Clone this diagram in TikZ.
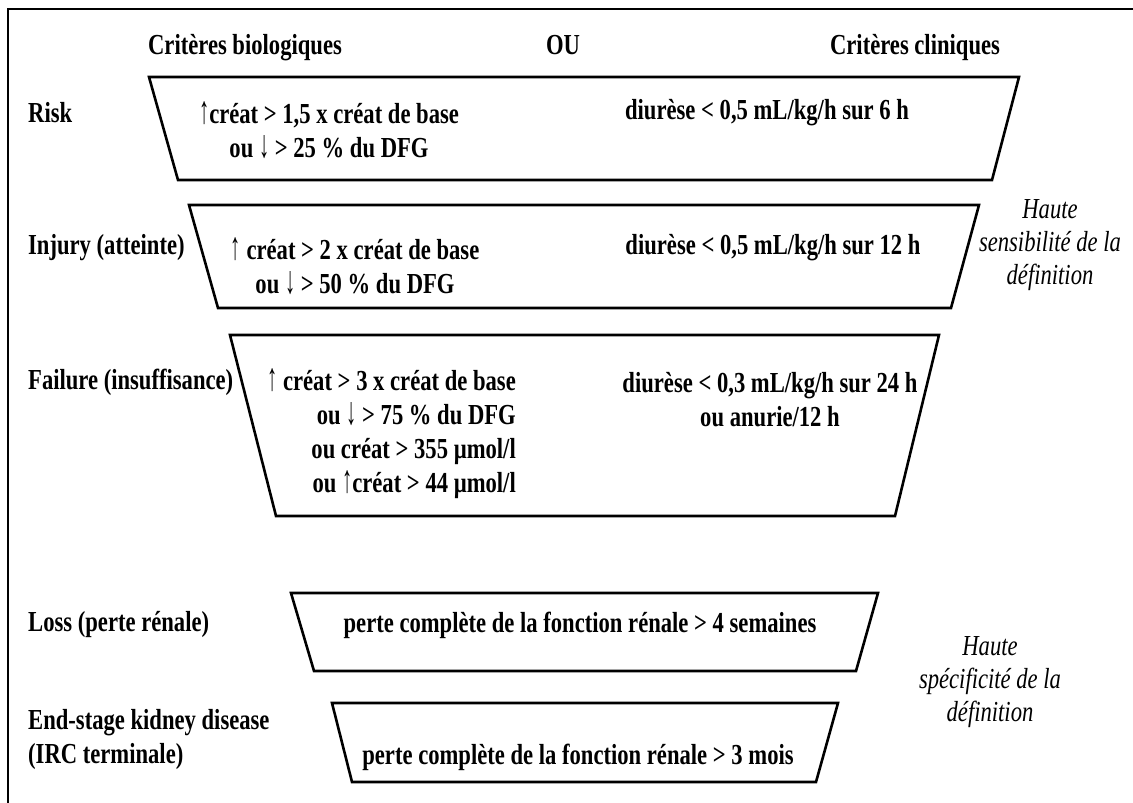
\documentclass[tikz,border=0pt]{standalone}
\usepackage{fontspec}
\setmainfont{Liberation Serif}[FakeStretch=0.78]
\usetikzlibrary{positioning}

\newcommand{\arrup}{\scalebox{0.9}[1.35]{↑}}
\newcommand{\arrdown}{\scalebox{0.9}[1.35]{↓}}

\begin{document}
\begin{tikzpicture}[x=1pt, y=-1pt,
    band/.style={draw, line width=2.6pt, line join=miter},
    head/.style={font=\fontsize{29}{34}\selectfont\bfseries, inner sep=0pt},
    crit/.style={head, align=center},
    row label/.style={head, anchor=west, align=left},
    note/.style={font=\fontsize{29}{33}\selectfont\itshape, align=center, inner sep=0pt}]

  \useasboundingbox (0,0) rectangle (1133,803);
  \draw[line width=2.6pt] (8,803) -- (8,9) -- (1133,9);

  % column titles
  \node[head, anchor=base] (bio) at (245,54) {Critères biologiques};
  \node[head, anchor=base] (ou) at (563,54) {OU};
  \node[head, anchor=base] (clin) at (915,54) {Critères cliniques};

  % funnel bands
  \draw[band] (149,77) -- (1019,77) -- (992,180) -- (178,180) -- cycle;
  \draw[band] (189,205) -- (979,205) -- (951,308) -- (218,308) -- cycle;
  \draw[band] (230,335) -- (939,335) -- (895,516) -- (276,516) -- cycle;
  \draw[band] (291,593) -- (878,593) -- (856,671) -- (314,671) -- cycle;
  \draw[band] (332,703) -- (838,703) -- (816,782) -- (352,782) -- cycle;

  % row labels
  \node[row label] (risk) at (28,113) {Risk};
  \node[row label] (injury) at (28,248) {Injury (atteinte)};
  \node[row label] (failure) at (28,382) {Failure (insuffisance)};
  \node[row label] (loss) at (28,625) {Loss (perte rénale)};
  \node[row label] (eskd) at (28,740) {End-stage kidney disease\\(IRC terminale)};

  % biological criteria
  \node[crit] (riskbio) at (329,130) {\arrup créat > 1,5 x créat de base\\ou \arrdown{} > 25 \% du DFG};
  \node[crit] (injurybio) at (355,266) {\arrup{} créat > 2 x créat de base\\ou \arrdown{} > 50 \% du DFG};
  \node[head, align=right, anchor=east] (failurebio) at (516,434)
    {\arrup{} créat > 3 x créat de base\\ou \arrdown{} > 75 \% du DFG\\ou créat > 355 µmol/l\\ou \arrup créat > 44 µmol/l};

  % clinical criteria
  \node[crit] (riskclin) at (767,113) {diurèse < 0,5 mL/kg/h sur 6 h};
  \node[crit] (injuryclin) at (773,248) {diurèse < 0,5 mL/kg/h sur 12 h};
  \node[crit] (failureclin) at (770,400) {diurèse < 0,3 mL/kg/h sur 24 h\\ou anurie/12 h};
  \node[crit] (losstext) at (580,625) {perte complète de la fonction rénale > 4 semaines};
  \node[crit] (eskdtext) at (578,757) {perte complète de la fonction rénale > 3 mois};

  % side notes
  \node[note] (sens) at (1050,245) {Haute\\sensibilité de la\\définition};
  \node[note] (spec) at (990,682) {Haute\\spécificité de la\\définition};
\end{tikzpicture}
\end{document}
